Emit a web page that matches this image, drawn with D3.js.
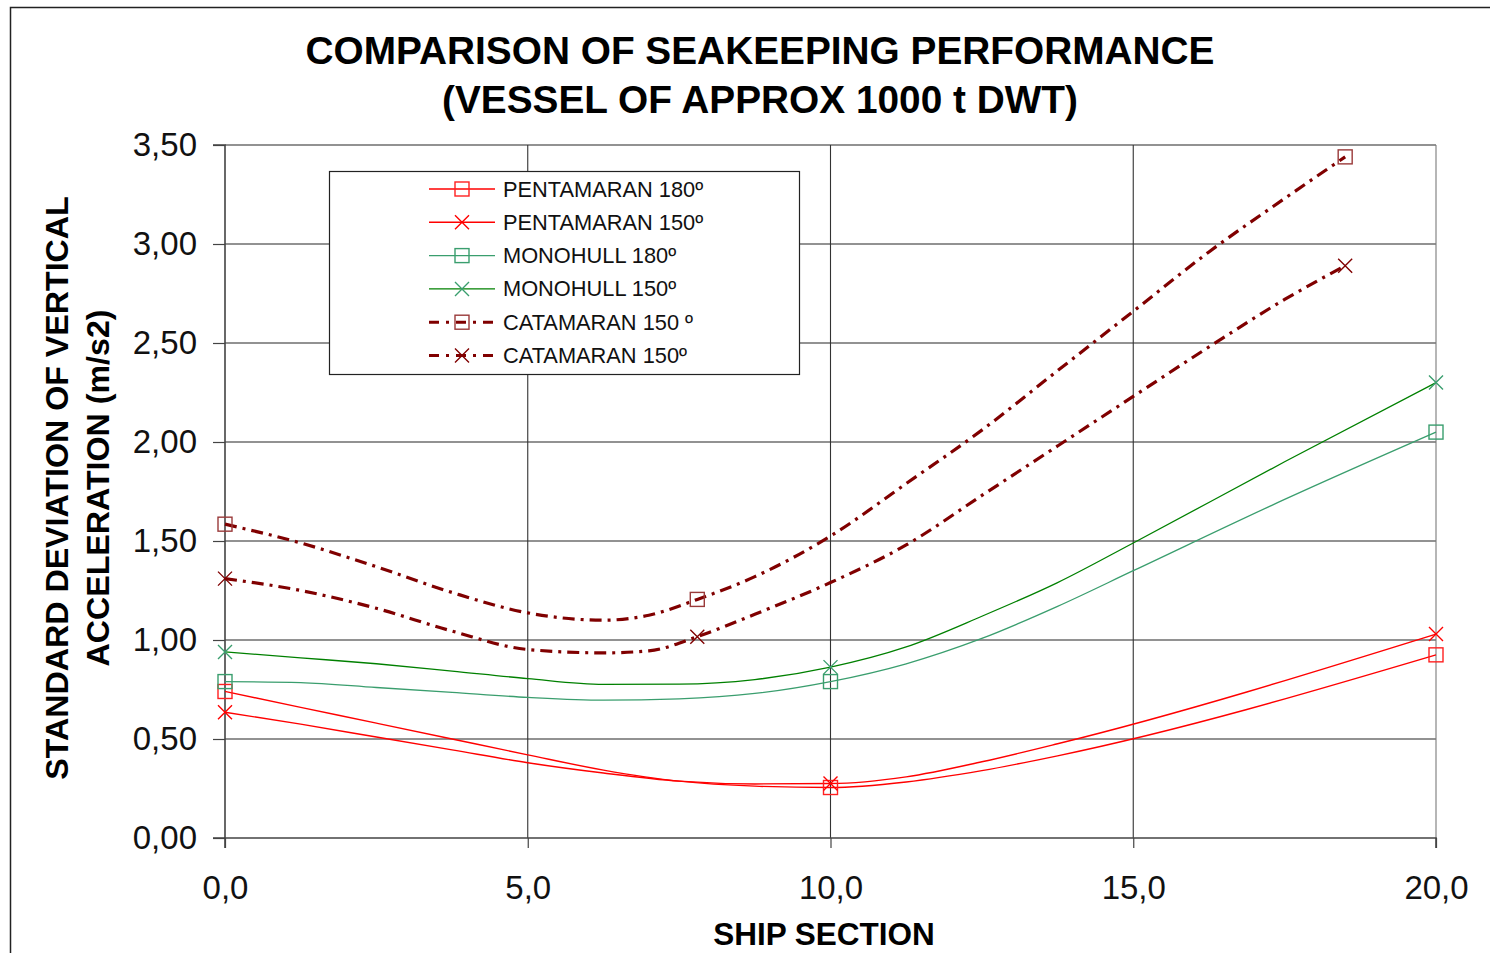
<!DOCTYPE html>
<html><head><meta charset="utf-8">
<script src="https://cdn.jsdelivr.net/npm/d3@7"></script>
<style>body{margin:0;background:#fff}svg{display:block;font-family:"Liberation Sans",Arial,sans-serif}</style>
</head><body><svg id="c" width="1490" height="953"></svg>
<script>
// ---- data ----
const titleLines = ["COMPARISON OF SEAKEEPING PERFORMANCE", "(VESSEL OF APPROX 1000 t DWT)"];
const xLabel = "SHIP SECTION";
const yLabelLines = ["STANDARD DEVIATION OF VERTICAL", "ACCELERATION (m/s2)"];
const xTicks = [0, 5, 10, 15, 20];
const yTicks = [0, 0.5, 1.0, 1.5, 2.0, 2.5, 3.0, 3.5];

const pentaSections = [0, 1.25, 2.5, 3.75, 5, 6.25, 7.5, 8.75, 10, 11.25, 12.5, 13.75, 20];
const penta180 = [0.74, 0.66, 0.58, 0.50, 0.42, 0.343, 0.287, 0.262, 0.255, 0.283, 0.34, 0.415, 0.925];
const penta150 = [0.635, 0.575, 0.51, 0.445, 0.38, 0.328, 0.287, 0.273, 0.275, 0.309, 0.385, 0.476, 1.03];

const mono180Sections = [0, 1.25, 2.5, 3.75, 5, 6.25, 7.5, 8.75, 10, 11.25, 12.5, 13.75, 15, 17.5, 20];
const mono180 = [0.79, 0.785, 0.76, 0.735, 0.71, 0.696, 0.703, 0.73, 0.79, 0.88, 1.008, 1.17, 1.35, 1.71, 2.05];
const mono150Sections = [0, 1.25, 2.5, 3.75, 5, 6.25, 7.5, 8.75, 10, 11.25, 12.5, 13.75, 15, 17.5, 20];
const mono150 = [0.94, 0.91, 0.88, 0.843, 0.805, 0.776, 0.777, 0.80, 0.863, 0.965, 1.12, 1.29, 1.49, 1.90, 2.30];

const catSections = [0, 1.25, 2.5, 3.75, 5, 6.25, 7.0, 7.8, 8.75, 10, 11.25, 12.5, 13.75, 15, 16.25, 17.5, 18.5];
const catSquare = [1.585, 1.49, 1.37, 1.24, 1.137, 1.10, 1.125, 1.205, 1.32, 1.525, 1.79, 2.06, 2.36, 2.66, 2.96, 3.23, 3.44];
const catCross = [1.31, 1.25, 1.16, 1.045, 0.952, 0.935, 0.945, 1.017, 1.13, 1.29, 1.48, 1.73, 1.98, 2.23, 2.48, 2.72, 2.89];

const markerSectionsPM = [0, 10, 20];
const markerSectionsCat = [0, 7.8, 18.5];

const seriesNames = ["PENTAMARAN 180º", "PENTAMARAN 150º", "MONOHULL 180º", "MONOHULL 150º", "CATAMARAN 150 º", "CATAMARAN 150º"];

// ---- series setup ----
const series = [
  {name: seriesNames[0], xs: pentaSections, ys: penta180, marks: markerSectionsPM, sym: "square", color: "#FF0000", mcolor: "#FF2020", w: 1.4, dash: null},
  {name: seriesNames[1], xs: pentaSections, ys: penta150, marks: markerSectionsPM, sym: "cross", color: "#FF0000", mcolor: "#FF0000", w: 1.4, dash: null},
  {name: seriesNames[2], xs: mono180Sections, ys: mono180, marks: markerSectionsPM, sym: "square", color: "#3A9E6E", mcolor: "#3A9E6E", w: 1.3, dash: null},
  {name: seriesNames[3], xs: mono150Sections, ys: mono150, marks: markerSectionsPM, sym: "cross", color: "#008000", mcolor: "#3A9E6E", w: 1.3, dash: null},
  {name: seriesNames[4], xs: catSections, ys: catSquare, marks: markerSectionsCat, sym: "square", color: "#800000", mcolor: "#9A3A3A", w: 3.2, dash: "12,6,3,6"},
  {name: seriesNames[5], xs: catSections, ys: catCross, marks: markerSectionsCat, sym: "cross", color: "#800000", mcolor: "#800000", w: 3.2, dash: "12,6,3,6"}
];

const svg = d3.select("#c");
const X0 = 225, X1 = 1436, Y0 = 838, Y1 = 145;
const x = d3.scaleLinear().domain([0, 20]).range([X0, X1]);
const y = d3.scaleLinear().domain([0, 3.5]).range([Y0, Y1]);
const loc = d3.formatLocale({decimal: ",", thousands: ".", grouping: [3], currency: ["", ""]});
const fx = loc.format(".1f"), fy = loc.format(".2f");

// outer frame
svg.append("rect").attr("x", 10.5).attr("y", 7.5).attr("width", 1600).attr("height", 1200)
  .attr("fill", "none").attr("stroke", "#222").attr("stroke-width", 1.5);

// gridlines
svg.append("g").selectAll("line").data(yTicks.filter(d => d > 0)).join("line")
  .attr("x1", X0).attr("x2", X1).attr("y1", d => y(d)).attr("y2", d => y(d))
  .attr("stroke", "#6e6e6e").attr("stroke-width", 1.3);
svg.append("g").selectAll("line").data(xTicks.filter(d => d > 0)).join("line")
  .attr("x1", d => x(d)).attr("x2", d => x(d)).attr("y1", Y1).attr("y2", Y0)
  .attr("stroke", d => d === 20 ? "#7a7a7a" : "#333").attr("stroke-width", 1.1);

// axes
const yAxis = d3.axisLeft(y).tickValues(yTicks).tickFormat(fy).tickSize(12).tickPadding(16);
const gy = svg.append("g").attr("transform", `translate(${X0},0)`).call(yAxis);
const xAxis = d3.axisBottom(x).tickValues(xTicks).tickFormat(fx).tickSize(10).tickPadding(28);
const gx = svg.append("g").attr("transform", `translate(0,${Y0})`).call(xAxis);
[gx, gy].forEach(g => {
  g.select(".domain").attr("stroke", "#444").attr("stroke-width", 1.6);
  g.selectAll(".tick line").attr("stroke", "#444").attr("stroke-width", 1.2);
  g.selectAll(".tick text").attr("font-size", 33).attr("fill", "#111").attr("font-family", "Liberation Sans, Arial, sans-serif");
});
gy.select(".domain").attr("d", `M-12,${Y1}H0V${Y0}H-12`);
gx.select(".domain").attr("d", `M${X0},10V0H${X1}V10`);

// lines
const line = d3.line().x(d => x(d[0])).y(d => y(d[1])).curve(d3.curveMonotoneX);
const gLines = svg.append("g");
series.forEach(s => {
  const pts = s.xs.map((v, i) => [v, s.ys[i]]);
  gLines.append("path").attr("d", line(pts)).attr("fill", "none")
    .attr("stroke", s.color).attr("stroke-width", s.w)
    .attr("stroke-dasharray", s.dash).attr("stroke-linejoin", "round");
});

function drawMarker(g, cx, cy, sym, color) {
  const h = 7;
  if (sym === "square") {
    g.append("rect").attr("x", cx - h).attr("y", cy - h).attr("width", 2 * h).attr("height", 2 * h)
      .attr("fill", "none").attr("stroke", color).attr("stroke-width", 1.4);
  } else {
    g.append("path").attr("d", `M${cx - h},${cy - h}L${cx + h},${cy + h}M${cx - h},${cy + h}L${cx + h},${cy - h}`)
      .attr("fill", "none").attr("stroke", color).attr("stroke-width", 1.4);
  }
}
const gMarks = svg.append("g");
series.forEach(s => {
  s.xs.forEach((v, i) => {
    if (s.marks.includes(v)) drawMarker(gMarks, x(v), y(s.ys[i]), s.sym, s.mcolor);
  });
});

// legend
const lg = svg.append("g");
lg.append("rect").attr("x", 329.5).attr("y", 171.5).attr("width", 470).attr("height", 203)
  .attr("fill", "#fff").attr("stroke", "#222").attr("stroke-width", 1.2);
series.forEach((s, i) => {
  const cy = 189 + i * 33.3;
  lg.append("line").attr("x1", 429).attr("x2", 495).attr("y1", cy).attr("y2", cy)
    .attr("stroke", s.color).attr("stroke-width", s.dash ? 3 : s.w)
    .attr("stroke-dasharray", s.dash ? "10,7,3,7" : null);
  drawMarker(lg, 462, cy, s.sym, s.mcolor);
  lg.append("text").attr("x", 503).attr("y", cy + 7.5).attr("font-size", 21.8).attr("fill", "#111").text(s.name);
});

// titles
svg.append("g").selectAll("text").data(titleLines).join("text")
  .attr("x", 760).attr("y", (d, i) => 64 + i * 49).attr("text-anchor", "middle")
  .attr("font-size", 38.8).attr("font-weight", "bold").attr("fill", "#000").text(d => d);
svg.append("text").attr("x", 824).attr("y", 945).attr("text-anchor", "middle")
  .attr("font-size", 31.5).attr("font-weight", "bold").attr("fill", "#000").text(xLabel);
svg.append("g").selectAll("text").data(yLabelLines).join("text")
  .attr("transform", (d, i) => `translate(${68 + i * 41},488) rotate(-90)`)
  .attr("text-anchor", "middle").attr("font-size", 32.2).attr("font-weight", "bold").attr("fill", "#000").text(d => d);
</script></body></html>
